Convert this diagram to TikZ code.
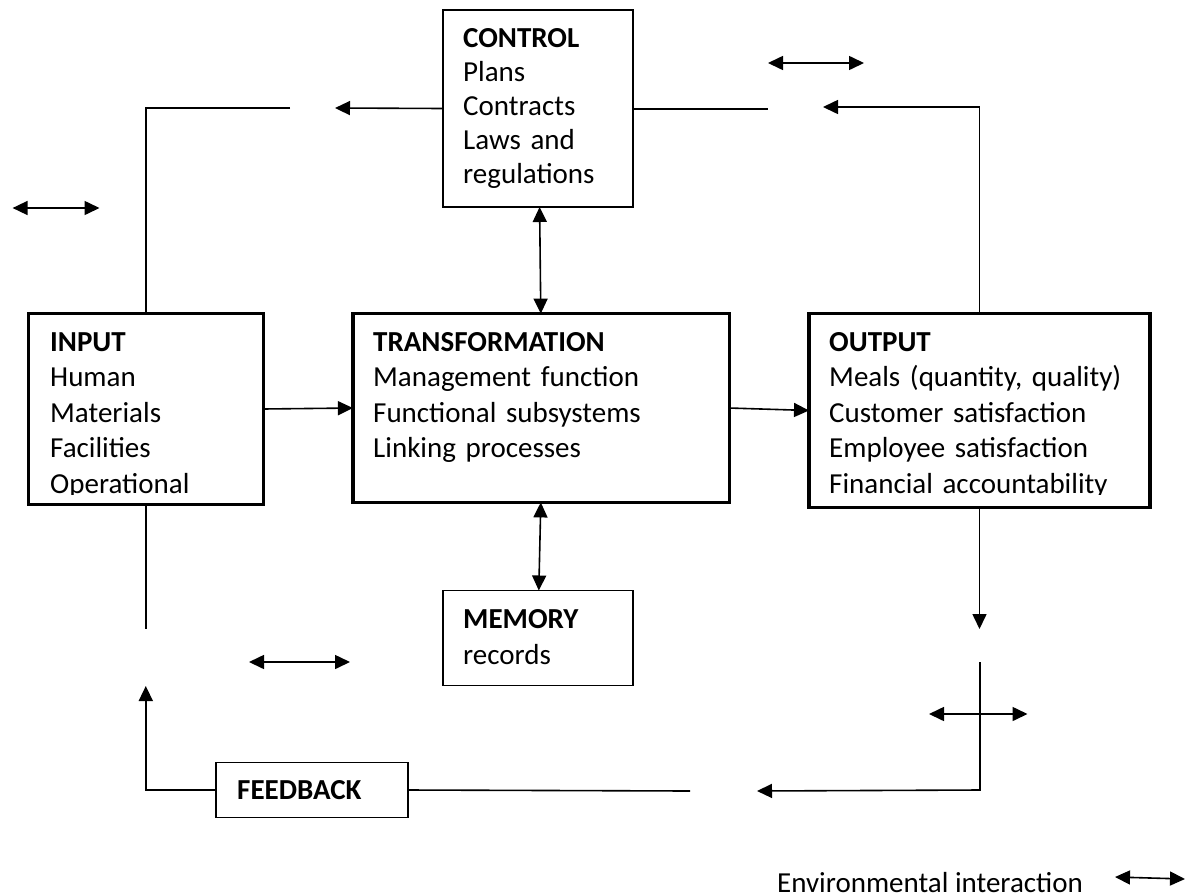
\documentclass[tikz,border=0pt]{standalone}
\usepackage{fontspec}
\setmainfont{Carlito}
\usetikzlibrary{arrows.meta}
\begin{document}
\begin{tikzpicture}[x=1pt,y=-1pt,
  thinbox/.style={draw, line width=1.6pt, inner sep=0pt, outer sep=0pt},
  thickbox/.style={draw, line width=3.2pt, inner sep=0pt, outer sep=0pt},
  conn/.style={line width=1.6pt},
  tip/.style={conn, -{Triangle[length=15pt,width=14pt]}},
  both/.style={conn, {Triangle[length=15pt,width=14pt]}-{Triangle[length=15pt,width=14pt]}},
  txt/.style={anchor=base west, inner sep=0pt, align=left, text width=340pt,
    font=\fontsize{29}{35.5}\selectfont},
]
\useasboundingbox (0,0) rectangle (1189,892);
\fill[white] (0,0) rectangle (1189,892);

% boxes
\node[thinbox, minimum width=190pt, minimum height=197pt] (control) at (538,108.5) {};
\node[thickbox, minimum width=234.8pt, minimum height=190.8pt] (input) at (145.8,409) {};
\node[thickbox, minimum width=376.2pt, minimum height=188.8pt] (transf) at (541,408) {};
\node[thickbox, minimum width=341pt, minimum height=193.8pt] (output) at (979.5,410.5) {};
\node[thinbox, minimum width=190pt, minimum height=95pt] (memory) at (538,638) {};
\node[thinbox, minimum width=192pt, minimum height=55pt] (feedback) at (312,790) {};

% box texts
\node[txt, font=\fontsize{29}{34}\selectfont] (controltxt) at (463,47.7)
  {\textbf{CONTROL}\\Plans\\Contracts\\Laws and\\regulations};
\begin{scope}
  \clip (0,0) rectangle (1189,494.5);
  \node[txt] (inputtxt) at (50,351)
    {\textbf{INPUT}\\Human\\Materials\\Facilities\\Operational};
  \node[txt] (outputtxt) at (829,351)
    {\textbf{OUTPUT}\\Meals (quantity, quality)\\Customer satisfaction\\Employee satisfaction\\Financial accountability};
\end{scope}
\node[txt] (transftxt) at (373,351)
  {\textbf{TRANSFORMATION}\\Management function\\Functional subsystems\\Linking processes};
\node[txt, font=\fontsize{29}{36}\selectfont] (memorytxt) at (463,628) {\textbf{MEMORY}\\records};
\node[txt] (feedbacktxt) at (237,799) {\textbf{FEEDBACK}};
\node[anchor=base west, inner sep=0pt, font=\fontsize{29}{35.5}\selectfont] (legend) at (777,892) {Environmental interaction};

% free ends of the connectors
\coordinate (ctlTip) at (335,108);
\coordinate (ctlGap) at (290,108);
\coordinate (ctrGap) at (768,109);
\coordinate (ctrTip) at (823,107);
\coordinate (cx1) at (539.6,0);
\coordinate (cx2) at (540.8,0);
\coordinate (cx3) at (538.8,0);
\coordinate (inEnd) at (145.8,629);
\coordinate (fbTip) at (145.8,686);
\coordinate (fbGap) at (690,791);
\coordinate (outTip) at (979.5,629);
\coordinate (rStart) at (980,662);
\coordinate (rCorner) at (980,790);
\coordinate (rTip) at (757,791);

% environmental interaction markers
\coordinate (e1a) at (12.6,208);  \coordinate (e1b) at (99.5,208);
\coordinate (e2a) at (768,63);    \coordinate (e2b) at (864,63);
\coordinate (e3a) at (249,662);   \coordinate (e3b) at (350,662);
\coordinate (e4a) at (929,714);   \coordinate (e4b) at (1027.5,714);
\coordinate (e5a) at (1115,877);  \coordinate (e5b) at (1185,879);

% connectors
\draw[tip] (control.west) -- (ctlTip);
\draw[conn] (ctlGap) -- (ctlGap -| input.north) -- (input.north);
\draw[conn] (control.east |- ctrGap) -- (ctrGap);
\draw[tip] (output.north) -- (output.north |- ctrTip) -- (ctrTip);
\draw[both] (control.south -| cx1) -- (transf.north -| cx2);
\draw[tip] (input.east) -- (transf.west);
\draw[tip] (transf.east) -- (output.west);
\draw[both] (transf.south -| cx2) -- (memory.north -| cx3);
\draw[conn] (input.south) -- (inEnd);
\draw[tip] (feedback.west) -- (feedback.west -| input.south) -- (fbTip);
\draw[conn] (feedback.east) -- (fbGap);
\draw[tip] (output.south) -- (outTip);
\draw[tip] (rStart) -- (rCorner) -- (rTip);

\foreach \e in {1,...,5} \draw[both] (e\e a) -- (e\e b);
\end{tikzpicture}
\end{document}
